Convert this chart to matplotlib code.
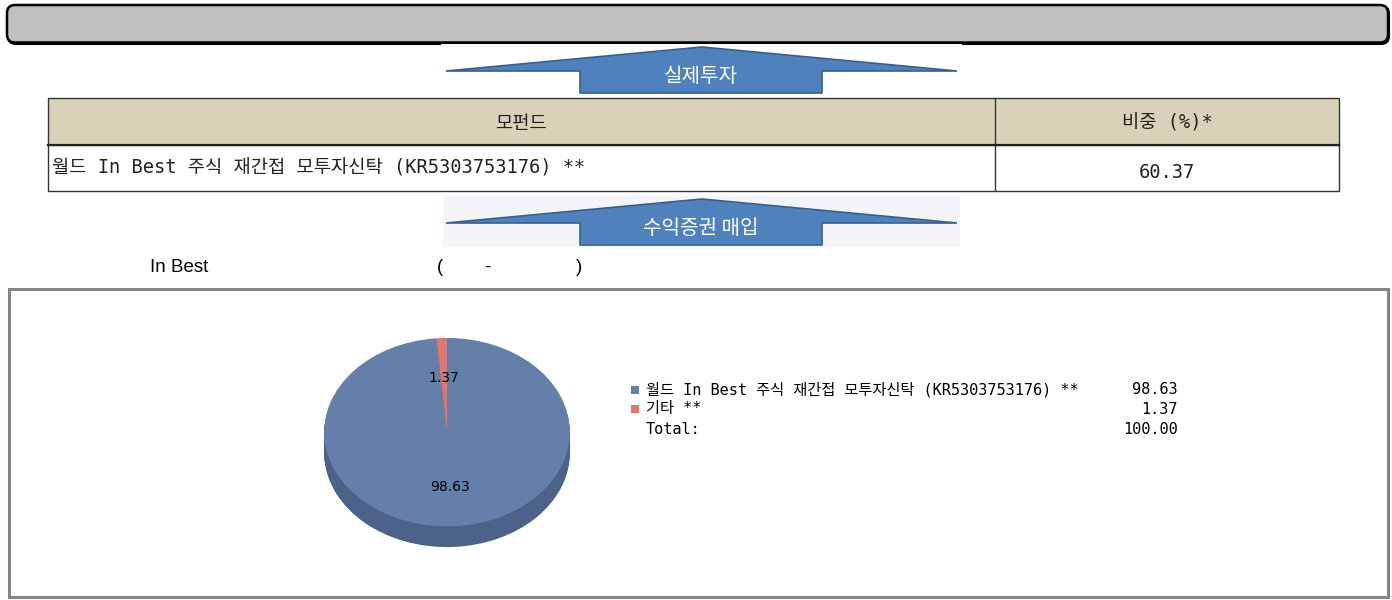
import numpy as np
import matplotlib.pyplot as plt
from matplotlib.patches import Rectangle, FancyBboxPatch, Polygon

plt.rcParams['font.family'] = ['Noto Sans CJK KR', 'DejaVu Sans']
MONO = ['DejaVu Sans Mono', 'Noto Sans CJK KR']

# table data
table_headers = ['모펀드', '비중 (%)*']
fund_names = ['월드 In Best 주식 재간접 모투자신탁 (KR5303753176) **']
fund_weights = [60.37]

# pie data
pie_labels = ['월드 In Best 주식 재간접 모투자신탁 (KR5303753176) **', '기타 **']
pie_values = [98.63, 1.37]
pie_colors = ['#6480aa', '#e2756e']
pie_side_colors = ['#4c6288', '#b85a55']

arrow_labels = ['실제투자', '수익증권 매입']

W, H = 1392, 600
fig = plt.figure(figsize=(W / 100, H / 100), dpi=100)
bg = fig.add_axes([0, 0, 1, 1])
bg.set_xlim(0, W)
bg.set_ylim(H, 0)
bg.axis('off')

# top banner
bg.add_patch(FancyBboxPatch((8, 6), 1381, 38, boxstyle='round,pad=0,rounding_size=8',
                            fc='black', ec='black', lw=1.5))
bg.add_patch(FancyBboxPatch((7, 5), 1381, 37.5, boxstyle='round,pad=0,rounding_size=8',
                            fc='#c0c0c0', ec='black', lw=1.8))
bg.add_patch(Rectangle((441, 43.5), 521, 52, fc='white', ec='none'))

def up_arrow(y0, label):
    pts = [(446, y0 + 24), (580, y0 + 24), (580, y0 + 46), (822, y0 + 46),
           (822, y0 + 24), (957, y0 + 24), (702, y0)]
    bg.add_patch(Polygon(pts, closed=True, fc='#4f81bd', ec='#3b5f8c', lw=1.2))
    bg.text(701, y0 + 29, label, color='white', fontsize=14.5, ha='center', va='center')

up_arrow(47, arrow_labels[0])

# table
x0, x1, xd = 48, 1339, 995
bg.add_patch(Rectangle((x0, 98), x1 - x0, 47, fc='#d8d3b8', ec='#333333', lw=1))
bg.add_patch(Rectangle((x0, 145), x1 - x0, 46, fc='white', ec='#333333', lw=1))
bg.plot([xd, xd], [98, 191], color='#333333', lw=1)
bg.plot([x0, x1], [145, 145], color='#222222', lw=1.6)
tbl = dict(fontsize=13.5, family=MONO, va='center', color='#222222')
bg.text((x0 + xd) / 2, 123, table_headers[0], ha='center', **tbl)
bg.text((xd + x1) / 2, 123, table_headers[1], ha='center', **tbl)
for i, (nm, wt) in enumerate(zip(fund_names, fund_weights)):
    yc = 168 + i * 46
    bg.text(52, yc, nm, ha='left', **tbl)
    bg.text((xd + x1) / 2, yc + 5, f'{wt:.2f}', ha='center', **tbl)

# second arrow
bg.add_patch(Rectangle((443, 196), 517, 51, fc='#f3f5f8', ec='none'))
up_arrow(199, arrow_labels[1])

# caption line
cap = dict(fontsize=13.5, family='Liberation Sans', ha='left', va='center')
bg.text(150, 267, 'In Best', **cap)
bg.text(437, 267, '(', **cap)
bg.text(484, 267, '-', **cap)
bg.text(576, 267, ')', **cap)

# chart frame
bg.add_patch(Rectangle((9, 289), 1379, 308, fc='white', ec='#858585', lw=2.2))

# 3d-ish pie
depth = 0.22
pax = fig.add_axes([323 / W, (H - 548) / H, 248 / W, 211 / H])
for d in np.linspace(depth, 0.01, 25):
    pax.pie(pie_values, colors=pie_side_colors, startangle=90, counterclock=False,
            center=(0, -d), wedgeprops=dict(lw=0))
wedges, _, autotexts = pax.pie(pie_values, colors=pie_colors, startangle=90, counterclock=False,
                               autopct='%.2f', pctdistance=0.58, wedgeprops=dict(lw=0),
                               textprops=dict(fontsize=10, family='DejaVu Sans', color='black'))
pax.set_aspect('auto')
pax.set_xlim(-1.01, 1.01)
pax.set_ylim(-1 - depth - 0.01, 1.01)

# legend
leg = dict(fontsize=11, family=MONO)
for i, (lab, val) in enumerate(zip(pie_labels, pie_values)):
    yc = 390 + i * 19
    bg.add_patch(Rectangle((631, yc - 4), 8, 8, fc=pie_colors[i], ec='none'))
    bg.text(646, yc, lab, ha='left', va='center', **leg)
    bg.text(1178, yc, f'{val:.2f}', ha='right', va='center', **leg)
bg.text(646, 430, 'Total:', ha='left', va='center', **leg)
bg.text(1178, 430, f'{sum(pie_values):.2f}', ha='right', va='center', **leg)

fig.savefig('out.png', dpi=100)
